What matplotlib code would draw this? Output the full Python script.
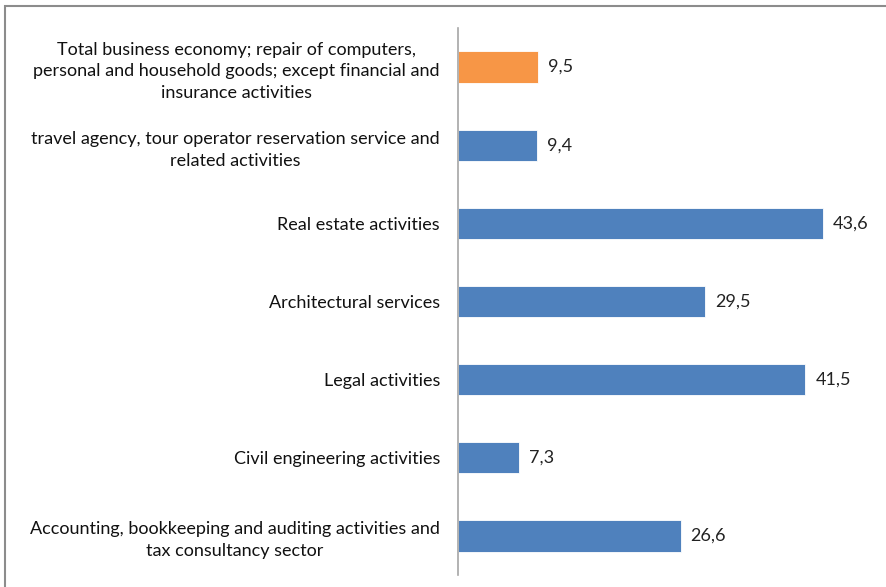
import matplotlib.pyplot as plt
from matplotlib.patches import Rectangle

categories = [
    "Total business economy; repair of computers,\npersonal and household goods; except financial and\ninsurance activities",
    "travel agency, tour operator reservation service and\nrelated activities",
    "Real estate activities",
    "Architectural services",
    "Legal activities",
    "Civil engineering activities",
    "Accounting, bookkeeping and auditing activities and\ntax consultancy sector",
]
values = [9.5, 9.4, 43.6, 29.5, 41.5, 7.3, 26.6]
value_labels = ["9,5", "9,4", "43,6", "29,5", "41,5", "7,3", "26,6"]
colors = ["#F79646"] + ["#4F81BD"] * 6

plt.rcParams["font.family"] = ["Lato", "DejaVu Sans"]

fig = plt.figure(figsize=(8.87, 5.87), dpi=100)
ax = fig.add_axes([458 / 887, 12 / 587, 418.5 / 887, 547 / 587])

ys = list(range(len(categories)))
ax.barh(ys, values, height=0.4, color=colors, edgecolor="white", linewidth=0.6)
for y, v, lab in zip(ys, values, value_labels):
    ax.text(v + 1.2, y, lab, va="center", ha="left", fontsize=13, color="#222222")

ax.set_ylim(len(categories) - 0.5, -0.5)
ax.set_xlim(0, 50)
ax.set_yticks(ys)
ax.set_yticklabels(categories, fontsize=13, multialignment="center",
                   color="#111111", linespacing=1.45)
ax.tick_params(axis="y", length=0, pad=13)
ax.set_xticks([])
for s in ["top", "right", "bottom"]:
    ax.spines[s].set_visible(False)
ax.spines["left"].set_color("#A6A6A6")
ax.spines["left"].set_linewidth(1.2)

# chart frame (only top/left edges visible in the crop)
fig.patches.append(Rectangle((5 / 887, -0.1), 1.2, 1 - 6 / 587 + 0.1,
                             transform=fig.transFigure, fill=False,
                             edgecolor="#8C8C8C", linewidth=1.5))

fig.savefig("out.png", dpi=100)
